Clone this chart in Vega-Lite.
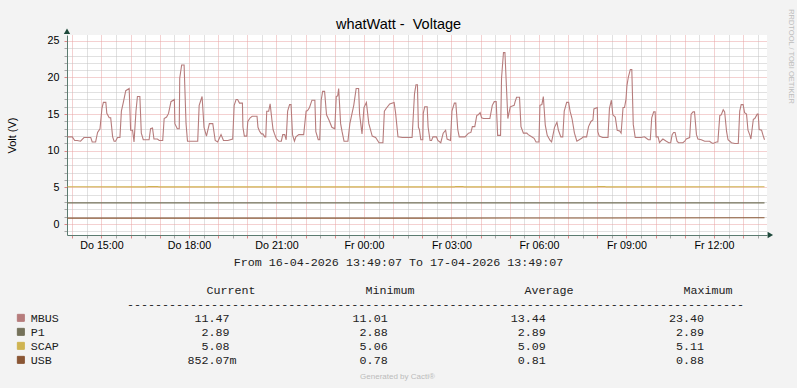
{
  "$schema": "https://vega.github.io/schema/vega-lite/v6.json",
  "width": 700,
  "height": 200,
  "autosize": {"type": "none"},
  "padding": {"left": 67, "top": 35, "right": 30, "bottom": 153},
  "background": "#F3F3F3",
  "title": {"text": "whatWatt - \u00a0Voltage", "anchor": "middle", "frame": "group", "dx": -18.5, "dy": 29, "offset": 5, "font": "Liberation Sans", "fontSize": 14.5, "fontWeight": "normal", "color": "#000000"},
  "config": {"view": {"stroke": null, "fill": "#FFFFFF"}},
  "datasets": {
    "voltage": [
      {"t":"2026-04-16 13:50","s":"MBUS","v":11.9},{"t":"2026-04-16 14:00","s":"MBUS","v":11.9},{"t":"2026-04-16 14:05","s":"MBUS","v":11.4},{"t":"2026-04-16 14:10","s":"MBUS","v":11.4},{"t":"2026-04-16 14:17","s":"MBUS","v":11.3},{"t":"2026-04-16 14:24","s":"MBUS","v":11.8},{"t":"2026-04-16 14:38","s":"MBUS","v":11.8},{"t":"2026-04-16 14:41","s":"MBUS","v":11.2},{"t":"2026-04-16 14:48","s":"MBUS","v":11.2},{"t":"2026-04-16 14:52","s":"MBUS","v":12.5},{"t":"2026-04-16 14:57","s":"MBUS","v":13.0},{"t":"2026-04-16 15:01","s":"MBUS","v":15.8},{"t":"2026-04-16 15:04","s":"MBUS","v":16.6},{"t":"2026-04-16 15:09","s":"MBUS","v":16.6},{"t":"2026-04-16 15:11","s":"MBUS","v":15.1},{"t":"2026-04-16 15:16","s":"MBUS","v":14.5},{"t":"2026-04-16 15:19","s":"MBUS","v":14.5},{"t":"2026-04-16 15:23","s":"MBUS","v":11.9},{"t":"2026-04-16 15:26","s":"MBUS","v":11.3},{"t":"2026-04-16 15:29","s":"MBUS","v":11.3},{"t":"2026-04-16 15:33","s":"MBUS","v":11.8},{"t":"2026-04-16 15:38","s":"MBUS","v":11.8},{"t":"2026-04-16 15:41","s":"MBUS","v":15.4},{"t":"2026-04-16 15:45","s":"MBUS","v":16.6},{"t":"2026-04-16 15:50","s":"MBUS","v":18.2},{"t":"2026-04-16 15:57","s":"MBUS","v":18.5},{"t":"2026-04-16 16:00","s":"MBUS","v":12.8},{"t":"2026-04-16 16:04","s":"MBUS","v":12.8},{"t":"2026-04-16 16:07","s":"MBUS","v":11.2},{"t":"2026-04-16 16:11","s":"MBUS","v":15.4},{"t":"2026-04-16 16:14","s":"MBUS","v":17.4},{"t":"2026-04-16 16:19","s":"MBUS","v":17.4},{"t":"2026-04-16 16:22","s":"MBUS","v":12.4},{"t":"2026-04-16 16:26","s":"MBUS","v":11.5},{"t":"2026-04-16 16:38","s":"MBUS","v":11.5},{"t":"2026-04-16 16:41","s":"MBUS","v":13.0},{"t":"2026-04-16 16:45","s":"MBUS","v":13.1},{"t":"2026-04-16 16:48","s":"MBUS","v":11.6},{"t":"2026-04-16 16:55","s":"MBUS","v":11.6},{"t":"2026-04-16 16:59","s":"MBUS","v":11.4},{"t":"2026-04-16 17:06","s":"MBUS","v":11.4},{"t":"2026-04-16 17:09","s":"MBUS","v":14.4},{"t":"2026-04-16 17:14","s":"MBUS","v":14.6},{"t":"2026-04-16 17:18","s":"MBUS","v":15.1},{"t":"2026-04-16 17:23","s":"MBUS","v":16.7},{"t":"2026-04-16 17:30","s":"MBUS","v":17.0},{"t":"2026-04-16 17:31","s":"MBUS","v":13.7},{"t":"2026-04-16 17:36","s":"MBUS","v":13.0},{"t":"2026-04-16 17:40","s":"MBUS","v":13.0},{"t":"2026-04-16 17:41","s":"MBUS","v":19.9},{"t":"2026-04-16 17:45","s":"MBUS","v":21.7},{"t":"2026-04-16 17:50","s":"MBUS","v":21.7},{"t":"2026-04-16 17:54","s":"MBUS","v":13.7},{"t":"2026-04-16 17:57","s":"MBUS","v":11.3},{"t":"2026-04-16 18:18","s":"MBUS","v":11.3},{"t":"2026-04-16 18:21","s":"MBUS","v":16.2},{"t":"2026-04-16 18:27","s":"MBUS","v":17.4},{"t":"2026-04-16 18:31","s":"MBUS","v":13.2},{"t":"2026-04-16 18:36","s":"MBUS","v":12.0},{"t":"2026-04-16 18:42","s":"MBUS","v":13.7},{"t":"2026-04-16 18:49","s":"MBUS","v":13.7},{"t":"2026-04-16 18:54","s":"MBUS","v":11.4},{"t":"2026-04-16 18:59","s":"MBUS","v":11.2},{"t":"2026-04-16 19:06","s":"MBUS","v":12.2},{"t":"2026-04-16 19:11","s":"MBUS","v":11.4},{"t":"2026-04-16 19:20","s":"MBUS","v":11.4},{"t":"2026-04-16 19:30","s":"MBUS","v":11.6},{"t":"2026-04-16 19:33","s":"MBUS","v":16.2},{"t":"2026-04-16 19:37","s":"MBUS","v":17.0},{"t":"2026-04-16 19:40","s":"MBUS","v":17.0},{"t":"2026-04-16 19:44","s":"MBUS","v":16.5},{"t":"2026-04-16 19:50","s":"MBUS","v":16.5},{"t":"2026-04-16 19:51","s":"MBUS","v":13.2},{"t":"2026-04-16 19:54","s":"MBUS","v":12.0},{"t":"2026-04-16 19:59","s":"MBUS","v":12.0},{"t":"2026-04-16 20:01","s":"MBUS","v":14.0},{"t":"2026-04-16 20:06","s":"MBUS","v":14.5},{"t":"2026-04-16 20:10","s":"MBUS","v":14.7},{"t":"2026-04-16 20:20","s":"MBUS","v":14.7},{"t":"2026-04-16 20:22","s":"MBUS","v":13.2},{"t":"2026-04-16 20:25","s":"MBUS","v":12.7},{"t":"2026-04-16 20:29","s":"MBUS","v":12.3},{"t":"2026-04-16 20:32","s":"MBUS","v":12.3},{"t":"2026-04-16 20:36","s":"MBUS","v":11.9},{"t":"2026-04-16 20:38","s":"MBUS","v":11.9},{"t":"2026-04-16 20:40","s":"MBUS","v":15.4},{"t":"2026-04-16 20:44","s":"MBUS","v":15.4},{"t":"2026-04-16 20:47","s":"MBUS","v":16.4},{"t":"2026-04-16 20:51","s":"MBUS","v":14.0},{"t":"2026-04-16 20:53","s":"MBUS","v":12.9},{"t":"2026-04-16 20:56","s":"MBUS","v":12.3},{"t":"2026-04-16 21:00","s":"MBUS","v":11.6},{"t":"2026-04-16 21:05","s":"MBUS","v":11.3},{"t":"2026-04-16 21:10","s":"MBUS","v":11.3},{"t":"2026-04-16 21:13","s":"MBUS","v":12.2},{"t":"2026-04-16 21:17","s":"MBUS","v":12.2},{"t":"2026-04-16 21:20","s":"MBUS","v":11.5},{"t":"2026-04-16 21:23","s":"MBUS","v":15.4},{"t":"2026-04-16 21:27","s":"MBUS","v":16.3},{"t":"2026-04-16 21:30","s":"MBUS","v":16.3},{"t":"2026-04-16 21:33","s":"MBUS","v":12.2},{"t":"2026-04-16 21:37","s":"MBUS","v":11.3},{"t":"2026-04-16 21:40","s":"MBUS","v":11.9},{"t":"2026-04-16 21:46","s":"MBUS","v":12.2},{"t":"2026-04-16 21:56","s":"MBUS","v":12.2},{"t":"2026-04-16 22:01","s":"MBUS","v":15.4},{"t":"2026-04-16 22:04","s":"MBUS","v":15.5},{"t":"2026-04-16 22:08","s":"MBUS","v":15.9},{"t":"2026-04-16 22:13","s":"MBUS","v":16.9},{"t":"2026-04-16 22:19","s":"MBUS","v":16.9},{"t":"2026-04-16 22:21","s":"MBUS","v":12.6},{"t":"2026-04-16 22:26","s":"MBUS","v":11.5},{"t":"2026-04-16 22:29","s":"MBUS","v":11.5},{"t":"2026-04-16 22:32","s":"MBUS","v":16.9},{"t":"2026-04-16 22:35","s":"MBUS","v":18.1},{"t":"2026-04-16 22:39","s":"MBUS","v":18.1},{"t":"2026-04-16 22:43","s":"MBUS","v":14.9},{"t":"2026-04-16 22:48","s":"MBUS","v":14.2},{"t":"2026-04-16 22:54","s":"MBUS","v":13.2},{"t":"2026-04-16 23:00","s":"MBUS","v":13.0},{"t":"2026-04-16 23:03","s":"MBUS","v":17.4},{"t":"2026-04-16 23:06","s":"MBUS","v":17.5},{"t":"2026-04-16 23:08","s":"MBUS","v":18.5},{"t":"2026-04-16 23:12","s":"MBUS","v":13.7},{"t":"2026-04-16 23:15","s":"MBUS","v":12.6},{"t":"2026-04-16 23:19","s":"MBUS","v":11.3},{"t":"2026-04-16 23:27","s":"MBUS","v":11.3},{"t":"2026-04-16 23:31","s":"MBUS","v":13.7},{"t":"2026-04-16 23:39","s":"MBUS","v":16.2},{"t":"2026-04-16 23:44","s":"MBUS","v":18.5},{"t":"2026-04-16 23:49","s":"MBUS","v":18.5},{"t":"2026-04-16 23:51","s":"MBUS","v":15.0},{"t":"2026-04-16 23:56","s":"MBUS","v":12.3},
      {"t":"2026-04-17 00:00","s":"MBUS","v":15.9},{"t":"2026-04-17 00:05","s":"MBUS","v":16.6},{"t":"2026-04-17 00:10","s":"MBUS","v":13.7},{"t":"2026-04-17 00:17","s":"MBUS","v":12.0},{"t":"2026-04-17 00:24","s":"MBUS","v":11.8},{"t":"2026-04-17 00:31","s":"MBUS","v":11.1},{"t":"2026-04-17 00:39","s":"MBUS","v":11.1},{"t":"2026-04-17 00:42","s":"MBUS","v":15.4},{"t":"2026-04-17 00:46","s":"MBUS","v":15.8},{"t":"2026-04-17 00:53","s":"MBUS","v":16.4},{"t":"2026-04-17 01:02","s":"MBUS","v":16.6},{"t":"2026-04-17 01:05","s":"MBUS","v":15.2},{"t":"2026-04-17 01:10","s":"MBUS","v":11.9},{"t":"2026-04-17 01:19","s":"MBUS","v":11.8},{"t":"2026-04-17 01:39","s":"MBUS","v":11.8},{"t":"2026-04-17 01:44","s":"MBUS","v":17.8},{"t":"2026-04-17 01:47","s":"MBUS","v":19.0},{"t":"2026-04-17 01:50","s":"MBUS","v":19.0},{"t":"2026-04-17 01:52","s":"MBUS","v":13.2},{"t":"2026-04-17 01:54","s":"MBUS","v":12.9},{"t":"2026-04-17 01:57","s":"MBUS","v":11.5},{"t":"2026-04-17 02:01","s":"MBUS","v":11.5},{"t":"2026-04-17 02:02","s":"MBUS","v":15.1},{"t":"2026-04-17 02:05","s":"MBUS","v":16.0},{"t":"2026-04-17 02:10","s":"MBUS","v":16.0},{"t":"2026-04-17 02:12","s":"MBUS","v":13.2},{"t":"2026-04-17 02:16","s":"MBUS","v":11.4},{"t":"2026-04-17 02:19","s":"MBUS","v":11.4},{"t":"2026-04-17 02:22","s":"MBUS","v":11.9},{"t":"2026-04-17 02:29","s":"MBUS","v":11.9},{"t":"2026-04-17 02:32","s":"MBUS","v":11.4},{"t":"2026-04-17 02:38","s":"MBUS","v":11.1},{"t":"2026-04-17 02:43","s":"MBUS","v":12.4},{"t":"2026-04-17 02:48","s":"MBUS","v":12.8},{"t":"2026-04-17 02:51","s":"MBUS","v":11.6},{"t":"2026-04-17 02:58","s":"MBUS","v":11.4},{"t":"2026-04-17 03:01","s":"MBUS","v":15.4},{"t":"2026-04-17 03:06","s":"MBUS","v":16.5},{"t":"2026-04-17 03:09","s":"MBUS","v":16.5},{"t":"2026-04-17 03:13","s":"MBUS","v":12.9},{"t":"2026-04-17 03:16","s":"MBUS","v":11.9},{"t":"2026-04-17 03:28","s":"MBUS","v":11.9},{"t":"2026-04-17 03:35","s":"MBUS","v":12.4},{"t":"2026-04-17 03:40","s":"MBUS","v":12.5},{"t":"2026-04-17 03:43","s":"MBUS","v":13.3},{"t":"2026-04-17 03:48","s":"MBUS","v":13.3},{"t":"2026-04-17 03:52","s":"MBUS","v":14.8},{"t":"2026-04-17 03:55","s":"MBUS","v":14.9},{"t":"2026-04-17 03:59","s":"MBUS","v":15.2},{"t":"2026-04-17 04:02","s":"MBUS","v":14.5},{"t":"2026-04-17 04:06","s":"MBUS","v":14.4},{"t":"2026-04-17 04:19","s":"MBUS","v":14.4},{"t":"2026-04-17 04:24","s":"MBUS","v":16.2},{"t":"2026-04-17 04:28","s":"MBUS","v":16.7},{"t":"2026-04-17 04:32","s":"MBUS","v":16.7},{"t":"2026-04-17 04:35","s":"MBUS","v":12.1},{"t":"2026-04-17 04:41","s":"MBUS","v":12.1},{"t":"2026-04-17 04:43","s":"MBUS","v":19.9},{"t":"2026-04-17 04:47","s":"MBUS","v":23.4},{"t":"2026-04-17 04:50","s":"MBUS","v":23.4},{"t":"2026-04-17 04:56","s":"MBUS","v":14.4},{"t":"2026-04-17 05:01","s":"MBUS","v":16.0},{"t":"2026-04-17 05:09","s":"MBUS","v":16.2},{"t":"2026-04-17 05:11","s":"MBUS","v":16.7},{"t":"2026-04-17 05:14","s":"MBUS","v":17.3},{"t":"2026-04-17 05:20","s":"MBUS","v":17.3},{"t":"2026-04-17 05:23","s":"MBUS","v":13.3},{"t":"2026-04-17 05:28","s":"MBUS","v":12.4},{"t":"2026-04-17 05:35","s":"MBUS","v":12.4},{"t":"2026-04-17 05:38","s":"MBUS","v":12.2},{"t":"2026-04-17 05:45","s":"MBUS","v":11.9},{"t":"2026-04-17 05:50","s":"MBUS","v":11.7},{"t":"2026-04-17 05:54","s":"MBUS","v":11.2},{"t":"2026-04-17 06:00","s":"MBUS","v":11.2},{"t":"2026-04-17 06:02","s":"MBUS","v":16.2},{"t":"2026-04-17 06:06","s":"MBUS","v":16.3},{"t":"2026-04-17 06:09","s":"MBUS","v":17.4},{"t":"2026-04-17 06:13","s":"MBUS","v":13.5},{"t":"2026-04-17 06:17","s":"MBUS","v":12.1},{"t":"2026-04-17 06:23","s":"MBUS","v":11.4},{"t":"2026-04-17 06:26","s":"MBUS","v":11.2},{"t":"2026-04-17 06:32","s":"MBUS","v":13.2},{"t":"2026-04-17 06:37","s":"MBUS","v":13.9},{"t":"2026-04-17 06:40","s":"MBUS","v":12.8},{"t":"2026-04-17 06:45","s":"MBUS","v":11.9},{"t":"2026-04-17 06:49","s":"MBUS","v":11.9},{"t":"2026-04-17 06:52","s":"MBUS","v":15.4},{"t":"2026-04-17 06:57","s":"MBUS","v":16.6},{"t":"2026-04-17 07:01","s":"MBUS","v":16.6},{"t":"2026-04-17 07:04","s":"MBUS","v":15.4},{"t":"2026-04-17 07:08","s":"MBUS","v":14.4},{"t":"2026-04-17 07:13","s":"MBUS","v":12.4},{"t":"2026-04-17 07:18","s":"MBUS","v":11.3},{"t":"2026-04-17 07:28","s":"MBUS","v":11.7},{"t":"2026-04-17 07:31","s":"MBUS","v":11.9},{"t":"2026-04-17 07:38","s":"MBUS","v":11.9},{"t":"2026-04-17 07:42","s":"MBUS","v":13.3},{"t":"2026-04-17 07:47","s":"MBUS","v":14.0},{"t":"2026-04-17 07:51","s":"MBUS","v":14.2},{"t":"2026-04-17 07:53","s":"MBUS","v":15.7},{"t":"2026-04-17 08:00","s":"MBUS","v":15.9},{"t":"2026-04-17 08:01","s":"MBUS","v":12.6},{"t":"2026-04-17 08:04","s":"MBUS","v":12.0},{"t":"2026-04-17 08:11","s":"MBUS","v":11.8},{"t":"2026-04-17 08:22","s":"MBUS","v":11.8},{"t":"2026-04-17 08:25","s":"MBUS","v":15.8},{"t":"2026-04-17 08:29","s":"MBUS","v":16.9},{"t":"2026-04-17 08:32","s":"MBUS","v":14.9},{"t":"2026-04-17 08:37","s":"MBUS","v":14.6},{"t":"2026-04-17 08:41","s":"MBUS","v":12.8},{"t":"2026-04-17 08:46","s":"MBUS","v":12.7},{"t":"2026-04-17 08:49","s":"MBUS","v":12.4},{"t":"2026-04-17 08:53","s":"MBUS","v":15.9},{"t":"2026-04-17 08:56","s":"MBUS","v":15.9},{"t":"2026-04-17 08:59","s":"MBUS","v":17.0},{"t":"2026-04-17 09:01","s":"MBUS","v":18.9},{"t":"2026-04-17 09:04","s":"MBUS","v":20.1},{"t":"2026-04-17 09:08","s":"MBUS","v":21.1},{"t":"2026-04-17 09:11","s":"MBUS","v":21.1},{"t":"2026-04-17 09:14","s":"MBUS","v":13.6},{"t":"2026-04-17 09:18","s":"MBUS","v":11.8},{"t":"2026-04-17 09:30","s":"MBUS","v":11.8},{"t":"2026-04-17 09:37","s":"MBUS","v":11.9},{"t":"2026-04-17 09:41","s":"MBUS","v":11.7},{"t":"2026-04-17 09:45","s":"MBUS","v":11.5},{"t":"2026-04-17 09:49","s":"MBUS","v":11.5},{"t":"2026-04-17 09:52","s":"MBUS","v":14.5},{"t":"2026-04-17 09:56","s":"MBUS","v":15.3},{"t":"2026-04-17 09:59","s":"MBUS","v":15.3},{"t":"2026-04-17 10:01","s":"MBUS","v":11.9},{"t":"2026-04-17 10:05","s":"MBUS","v":11.9},{"t":"2026-04-17 10:08","s":"MBUS","v":11.1},{"t":"2026-04-17 10:12","s":"MBUS","v":11.4},{"t":"2026-04-17 10:15","s":"MBUS","v":11.6},{"t":"2026-04-17 10:22","s":"MBUS","v":11.3},{"t":"2026-04-17 10:27","s":"MBUS","v":11.1},{"t":"2026-04-17 10:31","s":"MBUS","v":11.1},{"t":"2026-04-17 10:34","s":"MBUS","v":12.2},{"t":"2026-04-17 10:37","s":"MBUS","v":12.5},{"t":"2026-04-17 10:40","s":"MBUS","v":12.5},{"t":"2026-04-17 10:44","s":"MBUS","v":11.3},{"t":"2026-04-17 10:47","s":"MBUS","v":11.1},{"t":"2026-04-17 10:56","s":"MBUS","v":11.1},{"t":"2026-04-17 11:00","s":"MBUS","v":11.3},{"t":"2026-04-17 11:03","s":"MBUS","v":11.6},{"t":"2026-04-17 11:10","s":"MBUS","v":11.8},{"t":"2026-04-17 11:13","s":"MBUS","v":15.0},{"t":"2026-04-17 11:17","s":"MBUS","v":15.3},{"t":"2026-04-17 11:20","s":"MBUS","v":15.3},{"t":"2026-04-17 11:24","s":"MBUS","v":12.2},{"t":"2026-04-17 11:27","s":"MBUS","v":11.6},{"t":"2026-04-17 11:34","s":"MBUS","v":11.5},{"t":"2026-04-17 11:41","s":"MBUS","v":11.3},{"t":"2026-04-17 11:51","s":"MBUS","v":11.3},{"t":"2026-04-17 11:55","s":"MBUS","v":11.1},{"t":"2026-04-17 11:58","s":"MBUS","v":11.0},{"t":"2026-04-17 12:05","s":"MBUS","v":11.2},{"t":"2026-04-17 12:08","s":"MBUS","v":11.2},{"t":"2026-04-17 12:12","s":"MBUS","v":14.8},{"t":"2026-04-17 12:15","s":"MBUS","v":14.9},{"t":"2026-04-17 12:19","s":"MBUS","v":15.6},{"t":"2026-04-17 12:22","s":"MBUS","v":15.3},{"t":"2026-04-17 12:26","s":"MBUS","v":12.6},{"t":"2026-04-17 12:29","s":"MBUS","v":11.5},{"t":"2026-04-17 12:36","s":"MBUS","v":11.1},{"t":"2026-04-17 12:43","s":"MBUS","v":11.0},{"t":"2026-04-17 12:50","s":"MBUS","v":11.0},{"t":"2026-04-17 12:53","s":"MBUS","v":15.4},{"t":"2026-04-17 12:56","s":"MBUS","v":16.3},{"t":"2026-04-17 13:00","s":"MBUS","v":16.3},{"t":"2026-04-17 13:03","s":"MBUS","v":15.2},{"t":"2026-04-17 13:07","s":"MBUS","v":15.0},{"t":"2026-04-17 13:10","s":"MBUS","v":12.8},{"t":"2026-04-17 13:14","s":"MBUS","v":12.1},{"t":"2026-04-17 13:16","s":"MBUS","v":11.6},{"t":"2026-04-17 13:21","s":"MBUS","v":14.3},{"t":"2026-04-17 13:24","s":"MBUS","v":14.4},{"t":"2026-04-17 13:29","s":"MBUS","v":15.0},{"t":"2026-04-17 13:31","s":"MBUS","v":15.0},{"t":"2026-04-17 13:33","s":"MBUS","v":12.9},{"t":"2026-04-17 13:38","s":"MBUS","v":12.8},{"t":"2026-04-17 13:41","s":"MBUS","v":12.1},{"t":"2026-04-17 13:44","s":"MBUS","v":11.5},
      {"t":"2026-04-16 13:50","s":"P1","v":2.89},{"t":"2026-04-16 20:00","s":"P1","v":2.89},{"t":"2026-04-17 02:00","s":"P1","v":2.89},{"t":"2026-04-17 08:00","s":"P1","v":2.89},{"t":"2026-04-17 13:44","s":"P1","v":2.89},
      {"t":"2026-04-16 13:50","s":"SCAP","v":5.08},{"t":"2026-04-16 16:34","s":"SCAP","v":5.07},{"t":"2026-04-16 16:37","s":"SCAP","v":5.11},{"t":"2026-04-16 16:55","s":"SCAP","v":5.11},{"t":"2026-04-16 16:58","s":"SCAP","v":5.07},{"t":"2026-04-17 03:06","s":"SCAP","v":5.07},{"t":"2026-04-17 03:09","s":"SCAP","v":5.11},{"t":"2026-04-17 03:23","s":"SCAP","v":5.11},{"t":"2026-04-17 03:26","s":"SCAP","v":5.07},{"t":"2026-04-17 07:58","s":"SCAP","v":5.07},{"t":"2026-04-17 08:01","s":"SCAP","v":5.11},{"t":"2026-04-17 08:15","s":"SCAP","v":5.11},{"t":"2026-04-17 08:18","s":"SCAP","v":5.07},{"t":"2026-04-17 13:44","s":"SCAP","v":5.08},
      {"t":"2026-04-16 13:50","s":"USB","v":0.8},{"t":"2026-04-16 20:00","s":"USB","v":0.81},{"t":"2026-04-17 02:00","s":"USB","v":0.81},{"t":"2026-04-17 08:00","s":"USB","v":0.82},{"t":"2026-04-17 13:44","s":"USB","v":0.85}
    ],
    "stats": [
      {"s":"MBUS","stat":"Current","num":11.47,"unit":""},{"s":"MBUS","stat":"Minimum","num":11.01,"unit":""},{"s":"MBUS","stat":"Average","num":13.44,"unit":""},{"s":"MBUS","stat":"Maximum","num":23.40,"unit":""},
      {"s":"P1","stat":"Current","num":2.89,"unit":""},{"s":"P1","stat":"Minimum","num":2.88,"unit":""},{"s":"P1","stat":"Average","num":2.89,"unit":""},{"s":"P1","stat":"Maximum","num":2.89,"unit":""},
      {"s":"SCAP","stat":"Current","num":5.08,"unit":""},{"s":"SCAP","stat":"Minimum","num":5.06,"unit":""},{"s":"SCAP","stat":"Average","num":5.09,"unit":""},{"s":"SCAP","stat":"Maximum","num":5.11,"unit":""},
      {"s":"USB","stat":"Current","num":852.07,"unit":"m"},{"s":"USB","stat":"Minimum","num":0.78,"unit":""},{"s":"USB","stat":"Average","num":0.81,"unit":""},{"s":"USB","stat":"Maximum","num":0.88,"unit":""}
    ],
    "heads": [
      {"row":"header","stat":"Current"},{"row":"header","stat":"Minimum"},{"row":"header","stat":"Average"},{"row":"header","stat":"Maximum"}
    ],
    "notes": [
      {"row":"from","text":"From 16-04-2026 13:49:07 To 17-04-2026 13:49:07"},
      {"row":"rule","text":"----------------------------------------------------------------------------------------"},
      {"row":"gen","text":"Generated by Cacti®"}
    ]
  },
  "layer": [
    {
      "layer": [
        {
          "data": {"name": "voltage"},
          "mark": {"type": "line", "strokeWidth": 1.1},
          "encoding": {
            "x": {"field": "t", "type": "temporal",
              "scale": {"domain": [{"year":2026,"month":4,"date":16,"hours":13,"minutes":49,"seconds":7},{"year":2026,"month":4,"date":17,"hours":13,"minutes":49,"seconds":7}]},
              "axis": {"orient": "bottom", "grid": true, "gridColor": "#C2C2C2", "gridDash": [1,1], "gridWidth": 1,
                "values": [{"year":2026,"month":4,"date":16,"hours":14,"minutes":30},{"year":2026,"month":4,"date":16,"hours":15,"minutes":30},{"year":2026,"month":4,"date":16,"hours":16,"minutes":30},{"year":2026,"month":4,"date":16,"hours":17,"minutes":30},{"year":2026,"month":4,"date":16,"hours":18,"minutes":30},{"year":2026,"month":4,"date":16,"hours":19,"minutes":30},{"year":2026,"month":4,"date":16,"hours":20,"minutes":30},{"year":2026,"month":4,"date":16,"hours":21,"minutes":30},{"year":2026,"month":4,"date":16,"hours":22,"minutes":30},{"year":2026,"month":4,"date":16,"hours":23,"minutes":30},{"year":2026,"month":4,"date":17,"hours":0,"minutes":30},{"year":2026,"month":4,"date":17,"hours":1,"minutes":30},{"year":2026,"month":4,"date":17,"hours":2,"minutes":30},{"year":2026,"month":4,"date":17,"hours":3,"minutes":30},{"year":2026,"month":4,"date":17,"hours":4,"minutes":30},{"year":2026,"month":4,"date":17,"hours":5,"minutes":30},{"year":2026,"month":4,"date":17,"hours":6,"minutes":30},{"year":2026,"month":4,"date":17,"hours":7,"minutes":30},{"year":2026,"month":4,"date":17,"hours":8,"minutes":30},{"year":2026,"month":4,"date":17,"hours":9,"minutes":30},{"year":2026,"month":4,"date":17,"hours":10,"minutes":30},{"year":2026,"month":4,"date":17,"hours":11,"minutes":30},{"year":2026,"month":4,"date":17,"hours":12,"minutes":30},{"year":2026,"month":4,"date":17,"hours":13,"minutes":30}],
                "labels": false, "domain": false, "ticks": true, "tickSize": 3, "tickColor": "#A8A8A8", "title": null}},
            "y": {"field": "v", "type": "quantitative",
              "scale": {"domain": [-1.5, 25.8], "nice": false, "zero": false},
              "axis": {"orient": "left", "grid": true, "gridColor": "#C2C2C2", "gridDash": [1,1], "values": [-1,1,2,3,4,6,7,8,9,11,12,13,14,16,17,18,19,21,22,23,24], "labels": false, "domain": false, "ticks": true, "tickSize": 3, "tickColor": "#A8A8A8", "title": null}},
            "color": {"field": "s", "type": "nominal",
              "scale": {"domain": ["MBUS","P1","SCAP","USB"], "range": ["#B67C7C","#74725A","#CFB452","#8A5634"]},
              "legend": {"orient": "none", "legendX": -52, "legendY": 277, "direction": "vertical", "title": null, "padding": 0,
                "symbolType": "square", "symbolSize": 49, "symbolStrokeWidth": 1, "symbolStrokeColor": "#2F4A3E",
                "labelFont": "Liberation Mono", "labelFontSize": 11.7, "labelColor": "#222222", "labelOffset": 4, "rowPadding": 1,
                "encode": {"symbols": {"update": {"fill": {"scale": "color", "field": "value"}, "stroke": {"value": "#2F4A3E"}, "strokeWidth": {"value": 1}, "opacity": {"value": 1}}}}}}
          }
        },
        {
          "data": {"name": "voltage"},
          "transform": [{"filter": "datum.s == 'P1'"}],
          "mark": {"type": "point", "opacity": 0},
          "encoding": {
            "x": {"field": "t", "type": "temporal",
              "axis": {"orient": "bottom", "grid": true, "gridColor": "#E9A2A2", "gridDash": [1,1], "gridWidth": 1,
                "values": [{"year":2026,"month":4,"date":16,"hours":14},{"year":2026,"month":4,"date":16,"hours":15},{"year":2026,"month":4,"date":16,"hours":16},{"year":2026,"month":4,"date":16,"hours":17},{"year":2026,"month":4,"date":16,"hours":18},{"year":2026,"month":4,"date":16,"hours":19},{"year":2026,"month":4,"date":16,"hours":20},{"year":2026,"month":4,"date":16,"hours":21},{"year":2026,"month":4,"date":16,"hours":22},{"year":2026,"month":4,"date":16,"hours":23},{"year":2026,"month":4,"date":17,"hours":0},{"year":2026,"month":4,"date":17,"hours":1},{"year":2026,"month":4,"date":17,"hours":2},{"year":2026,"month":4,"date":17,"hours":3},{"year":2026,"month":4,"date":17,"hours":4},{"year":2026,"month":4,"date":17,"hours":5},{"year":2026,"month":4,"date":17,"hours":6},{"year":2026,"month":4,"date":17,"hours":7},{"year":2026,"month":4,"date":17,"hours":8},{"year":2026,"month":4,"date":17,"hours":9},{"year":2026,"month":4,"date":17,"hours":10},{"year":2026,"month":4,"date":17,"hours":11},{"year":2026,"month":4,"date":17,"hours":12},{"year":2026,"month":4,"date":17,"hours":13}],
                "labels": false, "domain": false, "ticks": true, "tickSize": 3, "tickColor": "#DD8888", "title": null}},
            "y": {"field": "v", "type": "quantitative",
              "axis": {"orient": "left", "grid": true, "gridColor": "#E9A2A2", "gridDash": [1,1], "values": [0,5,10,15,20,25], "labels": false, "domain": false, "ticks": true, "tickSize": 3, "tickColor": "#DD8888", "title": null}}
          }
        },
        {
          "data": {"name": "voltage"},
          "transform": [{"filter": "datum.s == 'P1'"}],
          "mark": {"type": "point", "opacity": 0},
          "encoding": {
            "x": {"field": "t", "type": "temporal",
              "axis": {"orient": "bottom", "grid": false,
                "values": [{"year":2026,"month":4,"date":16,"hours":15},{"year":2026,"month":4,"date":16,"hours":18},{"year":2026,"month":4,"date":16,"hours":21},{"year":2026,"month":4,"date":17,"hours":0},{"year":2026,"month":4,"date":17,"hours":3},{"year":2026,"month":4,"date":17,"hours":6},{"year":2026,"month":4,"date":17,"hours":9},{"year":2026,"month":4,"date":17,"hours":12}],
                "format": "%H:%M", "labelExpr": "(day(datum.value) == 4 ? 'Do ' : 'Fr ') + datum.label", "labelFont": "Liberation Sans", "labelFontSize": 10.7, "labelColor": "#000000", "labelPadding": 5, "labelFlush": false, "labelOverlap": false, "ticks": false, "domain": true, "domainColor": "#5B7B70", "domainWidth": 1, "title": null}},
            "y": {"field": "v", "type": "quantitative",
              "axis": {"orient": "left", "grid": false, "values": [0,5,10,15,20,25], "labelFont": "Liberation Sans", "labelFontSize": 10.7, "labelColor": "#000000", "labelPadding": 8, "ticks": false, "domain": true, "domainColor": "#5B7B70", "domainWidth": 1,
                "title": "Volt (V)", "titleFont": "Liberation Sans", "titleFontSize": 11, "titleFontWeight": "normal", "titleColor": "#000000", "titlePadding": 30}}
          }
        },
        {
          "data": {"name": "voltage"},
          "transform": [{"filter": "datum.s == 'P1'"}],
          "mark": {"type": "point", "opacity": 0},
          "encoding": {
            "x": {"field": "t", "type": "temporal", "axis": null},
            "y": {"field": "v", "type": "quantitative",
              "axis": {"orient": "right", "grid": false, "labels": false, "ticks": false, "domain": false,
                "title": "RRDTOOL / TOBI OETIKER", "titleFont": "Liberation Sans", "titleFontSize": 7.5, "titleFontWeight": "normal", "titleColor": "#BDBDBD", "titleAngle": 90, "titleX": 23, "titleY": 21, "titleAlign": "center", "titleBaseline": "middle"}}
          }
        },
        {
          "data": {"values": [{"t": "2026-04-17 13:56", "v": -1.5}]},
          "mark": {"type": "point", "shape": "triangle-right", "filled": true, "size": 40, "color": "#1F4A3C", "opacity": 1},
          "encoding": {
            "x": {"field": "t", "type": "temporal", "axis": null},
            "y": {"field": "v", "type": "quantitative", "axis": null}
          }
        },
        {
          "data": {"values": [{"t": "2026-04-16 13:49:07", "v": 26.3}]},
          "mark": {"type": "point", "shape": "triangle-up", "filled": true, "size": 40, "color": "#1F4A3C", "opacity": 1},
          "encoding": {
            "x": {"field": "t", "type": "temporal", "axis": null},
            "y": {"field": "v", "type": "quantitative", "axis": null}
          }
        }
      ],
      "resolve": {"axis": {"x": "independent", "y": "independent"}}
    },
    {
      "layer": [
        {
          "data": {"name": "heads"},
          "mark": {"type": "text", "font": "Liberation Mono", "fontSize": 11.7, "color": "#222222", "align": "center", "baseline": "middle"},
          "encoding": {
            "x": {"field": "stat", "type": "nominal", "scale": {"type": "point", "domain": ["Current","Minimum","Average","Maximum"], "range": [164, 641], "padding": 0}, "axis": null},
            "y": {"field": "row", "type": "nominal", "scale": {"type": "point", "domain": ["from","blank","header","rule","MBUS","P1","SCAP","USB","gen"], "range": [227, 339], "padding": 0}, "axis": null},
            "text": {"field": "stat"}
          }
        },
        {
          "data": {"name": "stats"},
          "mark": {"type": "text", "font": "Liberation Mono", "fontSize": 11.7, "color": "#222222", "align": "right", "baseline": "middle"},
          "encoding": {
            "x": {"field": "stat", "type": "nominal", "scale": {"type": "point", "domain": ["Current","Minimum","Average","Maximum"], "range": [162.5, 637], "padding": 0}, "axis": null},
            "y": {"field": "s", "type": "nominal", "axis": null},
            "text": {"field": "num", "type": "quantitative", "format": ".2f"}
          }
        },
        {
          "data": {"name": "stats"},
          "transform": [{"filter": "datum.unit != ''"}],
          "mark": {"type": "text", "font": "Liberation Mono", "fontSize": 11.7, "color": "#222222", "align": "left", "baseline": "middle"},
          "encoding": {
            "x": {"field": "stat", "type": "nominal", "scale": {"type": "point", "domain": ["Current","Minimum","Average","Maximum"], "range": [162.5, 637], "padding": 0}, "axis": null},
            "y": {"field": "s", "type": "nominal", "axis": null},
            "text": {"field": "unit"}
          }
        },
        {
          "data": {"name": "notes"},
          "transform": [{"filter": "datum.row == 'from'"}],
          "mark": {"type": "text", "font": "Liberation Mono", "fontSize": 11.7, "color": "#222222", "align": "center", "baseline": "middle", "dx": -18.5},
          "encoding": {
            "y": {"field": "row", "type": "nominal", "axis": null},
            "text": {"field": "text"}
          }
        },
        {
          "data": {"name": "notes"},
          "transform": [{"filter": "datum.row == 'rule'"}],
          "mark": {"type": "text", "font": "Liberation Mono", "fontSize": 11.7, "color": "#222222", "align": "center", "baseline": "middle", "dx": 18.5},
          "encoding": {
            "y": {"field": "row", "type": "nominal", "axis": null},
            "text": {"field": "text"}
          }
        },
        {
          "data": {"name": "notes"},
          "transform": [{"filter": "datum.row == 'gen'"}],
          "mark": {"type": "text", "font": "Liberation Sans", "fontSize": 8, "color": "#BBBBBB", "align": "center", "baseline": "middle", "dx": -19.5, "dy": 3},
          "encoding": {
            "y": {"field": "row", "type": "nominal", "axis": null},
            "text": {"field": "text"}
          }
        }
      ],
      "resolve": {"scale": {"x": "independent"}}
    }
  ],
  "resolve": {"scale": {"x": "independent", "y": "independent"}}
}
